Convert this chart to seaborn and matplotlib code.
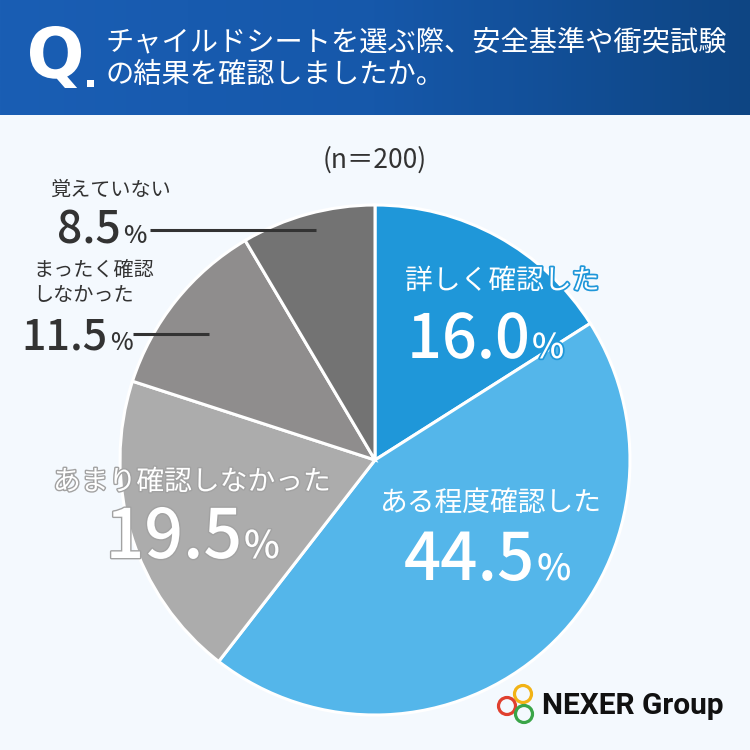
import numpy as np
import matplotlib
matplotlib.use("Agg")
import matplotlib.pyplot as plt
import matplotlib.patheffects as pe
from matplotlib.colors import LinearSegmentedColormap
from matplotlib.patches import Rectangle, Circle, PathPatch
from matplotlib.textpath import TextPath
from matplotlib.font_manager import FontProperties
from matplotlib.transforms import Affine2D
import seaborn as sns

# ---------------------------
# data
# ---------------------------
categories = ["詳しく確認した", "ある程度確認した", "あまり確認しなかった",
              "まったく確認\nしなかった", "覚えていない"]
shares = [16.0, 44.5, 19.5, 11.5, 8.5]
colors = ["#1f97d9", "#54b6ea", "#acacac", "#8f8d8d", "#737373"]
title_lines = ["チャイルドシートを選ぶ際、安全基準や衝突試験",
               "の結果を確認しましたか。"]
sample_note = "(n＝200)"
brand = "NEXER Group"

sns.set_theme(style="white")
plt.rcParams["font.family"] = ["Noto Sans CJK JP", "DejaVu Sans"]

W = 750
fig = plt.figure(figsize=(7.5, 7.5), dpi=100)
fig.patch.set_facecolor("#f4f9fe")

# background / header axes in pixel coords
bg = fig.add_axes([0, 0, 1, 1])
hdr_cmap = LinearSegmentedColormap.from_list("hdr", ["#1a5eb4", "#1658aa", "#0e4583"])
bg.imshow(np.linspace(0, 1, 256).reshape(1, -1), cmap=hdr_cmap,
          extent=[0, W, 115, 0], aspect="auto")
bg.set_xlim(0, W)
bg.set_ylim(W, 0)
bg.axis("off")

# big "Q." squeezed into its box
qpath = TextPath((0, 0), "Q", size=100, prop=FontProperties(family="DejaVu Sans", weight="bold"))
ext = qpath.get_extents()
sx = 51 / ext.width
sy = 62 / ext.height
tr = Affine2D().translate(-ext.x0, -ext.y0).scale(sx, -sy).translate(30, 88)
bg.add_patch(PathPatch(tr.transform_path(qpath), facecolor="white", edgecolor="none"))
bg.add_patch(Rectangle((87, 80), 7, 7, facecolor="white", edgecolor="none"))

for i, line in enumerate(title_lines):
    bg.text(105, 42 + i * 33, line, color="white", fontsize=20.3,
            ha="left", va="center")

# ---------------------------
# pie
# ---------------------------
R, cx, cy = 255, 375, 460
ax = fig.add_axes([(cx - R) / W, (W - cy - R) / W, 2 * R / W, 2 * R / W])
ax.pie(shares, colors=colors, startangle=90, counterclock=False,
       wedgeprops=dict(edgecolor="white", linewidth=2.2))
ax.set_xlim(-1.0, 1.0)
ax.set_ylim(-1.0, 1.0)
ax.axis("off")

# overlay for labels
ov = fig.add_axes([0, 0, 1, 1])
ov.set_xlim(0, W)
ov.set_ylim(W, 0)
ov.axis("off")
ov.patch.set_alpha(0)


def stroke(c, w=3):
    return [pe.withStroke(linewidth=w, foreground=c)]


def pct(x, y, value, size, color, edge=None, ew=3):
    eff = stroke(edge, ew) if edge else None
    ov.text(x, y, f"{value:.1f}", fontsize=size, color=color, ha="right",
            va="baseline", fontweight="medium", path_effects=eff)
    ov.text(x + 2, y, "%", fontsize=size * 0.56, color=color, ha="left",
            va="baseline", fontweight="medium", path_effects=eff)


ov.text(cx, 160, sample_note, fontsize=19, color="#333333", ha="center", va="center")

# 詳しく確認した
ov.text(405, 281, categories[0], fontsize=20, color="white", ha="left", va="center",
        path_effects=stroke(colors[0], 2.5))
pct(530, 358, shares[0], 44, "white", colors[0], 2.5)

# ある程度確認した
ov.text(380, 503, categories[1], fontsize=20, color="white", ha="left", va="center")
pct(535, 580, shares[1], 47, "white")

# あまり確認しなかった
ov.text(53, 482, categories[2], fontsize=20, color="white", ha="left", va="center",
        path_effects=stroke("#a2a2a2", 2))
pct(242, 558, shares[2], 49, "white", "#a2a2a2", 2)

# まったく確認しなかった
ov.text(33, 283, categories[3], fontsize=14.5, color="#333333", ha="left", va="center",
        linespacing=1.25)
pct(108, 350, shares[3], 31, "#333333")
ov.plot([133, 209], [334, 334], color="#333333", lw=2.2, solid_capstyle="butt")

# 覚えていない
ov.text(50, 190, categories[4], fontsize=14.5, color="#333333", ha="left", va="center")
pct(121, 243, shares[4], 32, "#333333")
ov.plot([150, 316], [230, 230], color="#333333", lw=2.2, solid_capstyle="butt")

# logo
for (x, y), c in zip([(523, 694), (507, 706), (524, 714)], ["#f2b316", "#e0402f", "#3aa548"]):
    ov.add_patch(Circle((x, y), 8.5, fill=False, edgecolor=c, lw=2.3))
ov.text(542, 706, brand, fontsize=21.5, fontweight="bold", color="#111111",
        ha="left", va="center", family=["Roboto", "DejaVu Sans"])

fig.savefig("out.png", dpi=100, facecolor=fig.get_facecolor())
